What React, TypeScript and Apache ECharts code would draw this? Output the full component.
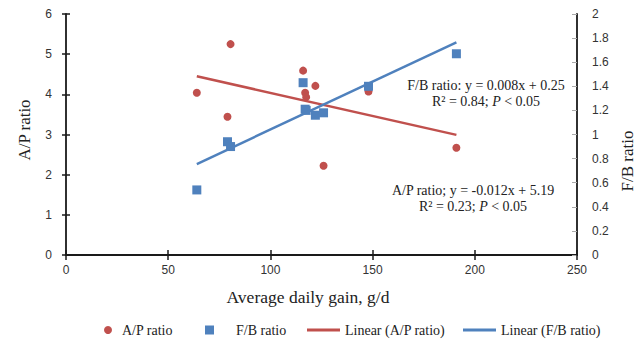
import React, { useEffect, useRef } from "react";
import * as echarts from "echarts";

const dailyGain = [64, 79, 80.5, 116, 117, 117.5, 122, 126, 148, 191];
const apRatio = [4.04, 3.44, 5.25, 4.59, 4.04, 3.93, 4.21, 2.22, 4.07, 2.67];
const fbRatio = [0.54, 0.94, 0.9, 1.43, 1.21, 1.2, 1.16, 1.18, 1.4, 1.67];
const trendX = [64, 191];
const apTrend = [4.45, 2.99];
const fbTrend = [0.755, 1.765];
const xTicks = { min: 0, max: 250, interval: 50 };
const apTicks = { min: 0, max: 6, interval: 1 };
const fbTicks = { min: 0, max: 2, interval: 0.2 };

const RED = "#C0504D";
const BLUE = "#4F81BD";
const SERIF = "'Liberation Serif', 'Times New Roman', serif";
const SANS = "'Liberation Sans', Arial, sans-serif";

export default function App() {
  const ref = useRef<HTMLDivElement>(null);
  useEffect(() => {
    document.body.style.margin = "0";
    const chart = echarts.init(ref.current!, null, { renderer: "svg" });
    const axisLine = () => ({ show: true, lineStyle: { color: "#1a1a1a", width: 1.8 } });
    const label = () => ({ color: "#333", fontFamily: SANS, fontSize: 12 });
    const legendText = () => ({
      fontFamily: SERIF, fontSize: 14, color: "#222",
      rich: { s: { fontFamily: SERIF, fontSize: 14, color: "#222" } },
    });
    const legendBase = (left: number, name: string, icon: string, w: number, h: number) => ({
      top: 323,
      left,
      padding: 0,
      data: [name],
      icon,
      itemWidth: w,
      itemHeight: h,
      formatter: "{s|{name}}",
      textStyle: legendText(),
    });
    const txt = (x: number, y: number, text: string, fontSize: number, rotation = 0) => ({
      type: "text", x, y, rotation,
      style: {
        text, fontFamily: SERIF, fontSize, fill: "#222", textAlign: "center", textVerticalAlign: "middle",
        rich: { i: { fontStyle: "italic", fontFamily: SERIF, fontSize, fill: "#222" } },
      },
    });
    chart.setOption({
      animation: false,
      textStyle: { fontFamily: SERIF },
      grid: { left: 66, right: 66, top: 14, bottom: 87 },
      xAxis: [
        {
          type: "value", position: "bottom", ...xTicks,
          axisLine: axisLine(), splitLine: { show: false },
          axisTick: { show: true, inside: false, length: 5, lineStyle: { color: "#1a1a1a", width: 1.5 } },
          axisLabel: { ...label(), margin: 9 },
        },
        {
          type: "value", position: "bottom", ...xTicks,
          axisLine: { show: false }, splitLine: { show: false },
          axisTick: { show: true, inside: true, length: 5, lineStyle: { color: "#1a1a1a", width: 1.5 } },
          axisLabel: { show: false },
        },
      ],
      yAxis: [
        {
          type: "value", position: "left", ...apTicks,
          axisLine: axisLine(), splitLine: { show: false },
          axisTick: { show: true, inside: false, length: 4, lineStyle: { color: "#1a1a1a", width: 1.5 } },
          axisLabel: { ...label(), margin: 14 },
        },
        {
          type: "value", position: "left", ...apTicks,
          axisLine: { show: false }, splitLine: { show: false },
          axisTick: { show: true, inside: true, length: 4, lineStyle: { color: "#1a1a1a", width: 1.5 } },
          axisLabel: { show: false },
        },
        {
          type: "value", position: "right", ...fbTicks,
          axisLine: axisLine(), splitLine: { show: false },
          axisTick: { show: true, inside: true, length: 5, lineStyle: { color: "#aaa", width: 1 } },
          axisLabel: { ...label(), margin: 15 },
        },
      ],
      legend: [
        legendBase(104, "A/P ratio", "circle", 18, 8),
        legendBase(205, "F/B ratio", "square", 26, 9),
        legendBase(307, "Linear (A/P ratio)", "rect", 33, 3),
        legendBase(463, "Linear (F/B ratio)", "rect", 33, 3),
      ],
      series: [
        {
          name: "A/P ratio", type: "scatter", xAxisIndex: 0, yAxisIndex: 0,
          symbol: "circle", symbolSize: 8, itemStyle: { color: RED, opacity: 1 },
          data: dailyGain.map((x, i) => [x, apRatio[i]]),
        },
        {
          name: "F/B ratio", type: "scatter", xAxisIndex: 0, yAxisIndex: 2,
          symbol: "rect", symbolSize: 9, itemStyle: { color: BLUE, opacity: 1 },
          data: dailyGain.map((x, i) => [x, fbRatio[i]]),
        },
        {
          name: "Linear (A/P ratio)", type: "line", xAxisIndex: 0, yAxisIndex: 0,
          symbol: "none", lineStyle: { color: RED, width: 2.5 }, itemStyle: { color: RED },
          data: trendX.map((x, i) => [x, apTrend[i]]),
        },
        {
          name: "Linear (F/B ratio)", type: "line", xAxisIndex: 0, yAxisIndex: 2,
          symbol: "none", lineStyle: { color: BLUE, width: 2.5 }, itemStyle: { color: BLUE },
          data: trendX.map((x, i) => [x, fbTrend[i]]),
        },
      ],
      graphic: [
        txt(308, 297, "Average daily gain, g/d", 17.5),
        txt(24, 130, "A/P ratio", 17, Math.PI / 2),
        txt(627, 161, "F/B ratio", 17, Math.PI / 2),
        txt(486, 85, "F/B ratio: y = 0.008x + 0.25", 14),
        txt(486, 101, "R² = 0.84; {i|P} < 0.05", 14),
        txt(473, 190, "A/P ratio; y = -0.012x + 5.19", 14),
        txt(473, 206, "R² = 0.23; {i|P} < 0.05", 14),
      ],
    });
    return () => chart.dispose();
  }, []);
  return <div ref={ref} style={{ width: 643, height: 342 }} />;
}
